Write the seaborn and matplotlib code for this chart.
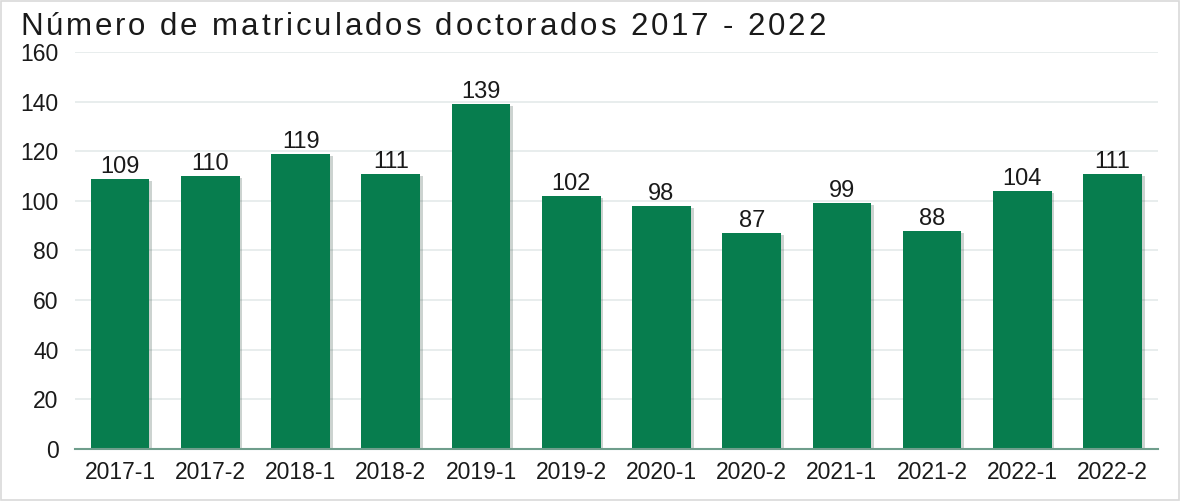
import matplotlib
matplotlib.use("Agg")
import matplotlib.pyplot as plt
import matplotlib.patheffects as pe
import seaborn as sns
import pandas as pd

periodos = ['2017-1', '2017-2', '2018-1', '2018-2', '2019-1', '2019-2',
            '2020-1', '2020-2', '2021-1', '2021-2', '2022-1', '2022-2']
matriculados = [109, 110, 119, 111, 139, 102, 98, 87, 99, 88, 104, 111]
y_ticks = [0, 20, 40, 60, 80, 100, 120, 140, 160]
titulo = 'Número de matriculados doctorados 2017 - 2022'

df = pd.DataFrame({'periodo': periodos, 'matriculados': matriculados})

sns.set_theme(style='white')
plt.rcParams['font.family'] = ['Liberation Sans', 'DejaVu Sans']

W, H = 1180, 501
fig = plt.figure(figsize=(W / 100, H / 100), dpi=100)
ax = fig.add_axes([0.0636, 0.104, 0.9175, 0.792])

sns.barplot(data=df, x='periodo', y='matriculados', color='#077D4E',
            saturation=1, width=0.65, linewidth=0, ax=ax)
for bar in ax.patches:
    bar.set_path_effects([pe.SimplePatchShadow(offset=(2, -1.5), alpha=0.2),
                          pe.Normal()])

for i, v in enumerate(matriculados):
    ax.text(i, v + 2.4, str(v), ha='center', va='baseline', fontsize=17,
            color='#1a1a1a')

ax.set_ylim(0, 160)
ax.set_yticks(y_ticks)
ax.set_xlim(-0.5, len(periodos) - 0.5)
ax.yaxis.grid(True, color='#E4EAEA', linewidth=1.2)
ax.set_axisbelow(True)
for s in ['top', 'right', 'left']:
    ax.spines[s].set_visible(False)
ax.spines['bottom'].set_color('#6F9E8C')
ax.spines['bottom'].set_linewidth(1.5)
ax.tick_params(axis='both', length=0, labelsize=16.5, colors='#1a1a1a')
ax.tick_params(axis='y', pad=12)
ax.tick_params(axis='x', pad=9)
ax.set_xlabel('')
ax.set_ylabel('')

# título con espaciado entre letras
renderer = fig.canvas.get_renderer()
tam_titulo = 22.5
espaciado = 2.85


def ancho(s):
    t = fig.text(0, 0, s + '|', fontsize=tam_titulo)
    w = t.get_window_extent(renderer).width
    t.remove()
    return w


base = ancho('')
x0 = 20
for i, ch in enumerate(titulo):
    x = x0 + (ancho(titulo[:i]) - base) + i * espaciado
    fig.text(x / W, 1 - 35 / H, ch, fontsize=tam_titulo, color='#1a1a1a',
             ha='left', va='baseline')

fig.patches.append(plt.Rectangle((0.001, 0.001), 0.998, 0.998, transform=fig.transFigure,
                                 fill=False, edgecolor='#D9D9D9', linewidth=1.2))

fig.savefig('out.png', dpi=100)
